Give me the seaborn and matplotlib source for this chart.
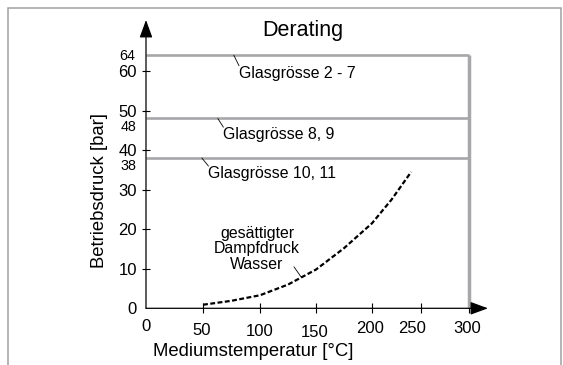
import numpy as np
import matplotlib
matplotlib.use('Agg')
import matplotlib.pyplot as plt
import matplotlib.transforms as mtransforms
from matplotlib.patches import Rectangle
import seaborn as sns

# Sattdampfkurve Wasser
temp_c = [50, 75, 100, 125, 150, 175, 200, 220, 240]
druck_bar = [0.9, 1.9, 3.3, 6.0, 9.8, 15.2, 21.5, 27.5, 34.5]

# Derating-Grenzen je Glasgrösse
glas_labels = ['Glasgrösse 2 - 7', 'Glasgrösse 8, 9', 'Glasgrösse 10, 11']
glas_druck = [64, 48, 38]
t_max = 300

x_ticks = [0, 50, 100, 150, 200, 250, 300]
y_ticks = [0, 10, 20, 30, 40, 50, 60]

# die x-Achse ist im Original nicht linear gezeichnet (250/300 enger)
x_axis_pos = [0, 57, 114, 170, 226, 275, 323]

GRAY = '#a7a7a9'

sns.set_theme(style='white')
plt.rcParams['font.family'] = ['Liberation Sans', 'DejaVu Sans']

fig = plt.figure(figsize=(5.63, 3.65), dpi=100)
ax = fig.add_axes([146 / 563, 56.7 / 365, 323 / 563, 253.1 / 365])

ax.set_xscale('function', functions=(lambda t: np.interp(t, x_ticks, x_axis_pos),
                                      lambda p: np.interp(p, x_axis_pos, x_ticks)))
ax.set_xlim(0, t_max)
ax.set_ylim(0, 64)

# Derating-Linien
ax.hlines(glas_druck, 0, t_max, color=GRAY, lw=1.9, zorder=2, clip_on=False)
ax.vlines(t_max, 0, max(glas_druck), color=GRAY, lw=2.5, zorder=2, clip_on=False)

# Dampfdruckkurve
sns.lineplot(x=temp_c, y=druck_bar, ax=ax, color='black', lw=1.6,
             linestyle=(0, (2.2, 1.1)), zorder=3)

sns.despine(ax=ax, left=True, bottom=True)

# Achsen mit Pfeilen
arrow = dict(arrowstyle='-|>,head_length=0.9,head_width=0.33', color='black',
             lw=0.9, shrinkA=0, shrinkB=0)
ax.annotate('', xy=(0, 1.139), xytext=(0, 0), xycoords='axes fraction',
            arrowprops=arrow, annotation_clip=False)
ax.annotate('', xy=(1.0588, 0), xytext=(0, 0), xycoords='axes fraction',
            arrowprops=arrow, annotation_clip=False)

ax.set_xticks(x_ticks, [str(t) for t in x_ticks])
ax.set_yticks(y_ticks, [str(t) for t in y_ticks])
ax.tick_params(axis='x', bottom=True, direction='inout', length=7.2, width=0.8,
               pad=6, labelsize=12, color='black', labelcolor='black')
ax.tick_params(axis='y', left=True, direction='inout', length=6, width=0.8,
               pad=3.4, labelsize=12, color='black', labelcolor='black')
ax.xaxis.get_major_ticks()[0].tick1line.set_visible(False)
ax.yaxis.get_major_ticks()[0].tick1line.set_visible(False)

# Beschriftungen der x-Achse sitzen im Original leicht versetzt
x_nudge = [(0, -3), (-1.6, 1), (0, 2.5), (-1.5, 3.5), (-2.3, -0.5), (-9, -0.5), (-2, -0.5)]
for lbl, (dx, dy) in zip(ax.get_xticklabels(), x_nudge):
    lbl.set_transform(lbl.get_transform() +
                      mtransforms.ScaledTranslation(dx / 100, -dy / 100, fig.dpi_scale_trans))

# Grenzwerte links an der Achse
side_offsets = [(-7.9, -0.5), (-6.7, -5.8), (-6.7, -5.8)]
for p, (dx, dy) in zip(glas_druck, side_offsets):
    ax.annotate(str(p), xy=(0, p), xytext=(dx, dy), textcoords='offset points',
                ha='right', va='center', fontsize=10.3, color='black',
                annotation_clip=False)

# Glasgrössen mit Hinweislinien
leader = dict(arrowstyle='-', color='black', lw=0.6, shrinkA=0, shrinkB=0, patchA=None)
lead_x = [77, 63, 49]
lead_off = [(3.8, -7.6), (4.0, -6.3), (4.75, -5.8)]
for lbl, p, lx, off in zip(glas_labels, glas_druck, lead_x, lead_off):
    ax.annotate(lbl, xy=(lx, p), xytext=off, textcoords='offset points',
                ha='left', va='top', fontsize=11.4, color='black',
                arrowprops=dict(leader, relpos=(0, 1)))

ax.annotate('gesättigter\nDampfdruck\nWasser', xy=(137, 7.8), xytext=(-32, 20.5),
            textcoords='offset points', ha='center', va='center', linespacing=1.08,
            fontsize=11.4, color='black',
            arrowprops=dict(leader, relpos=(0.93, 0.12)))

ax.set_xlabel('Mediumstemperatur [°C]', fontsize=13.3, color='black')
ax.xaxis.set_label_coords((253.3 - 146) / 323, -0.137)
ax.set_ylabel('Betriebsdruck [bar]', fontsize=13.3, color='black')
ax.yaxis.set_label_coords(-0.1176, 0.464)

fig.text(303 / 563, 1 - 36 / 365, 'Derating', ha='center', va='baseline',
         fontsize=15.5, color='black')

# grauer Rahmen (unten offen)
fig.patches.append(Rectangle((8.3 / 563, -0.1), 552.4 / 563, 0.1 + (1 - 7.5 / 365),
                             transform=fig.transFigure, fill=False,
                             ec='#a0a0a0', lw=1.1))

fig.savefig('out.png', dpi=100)
